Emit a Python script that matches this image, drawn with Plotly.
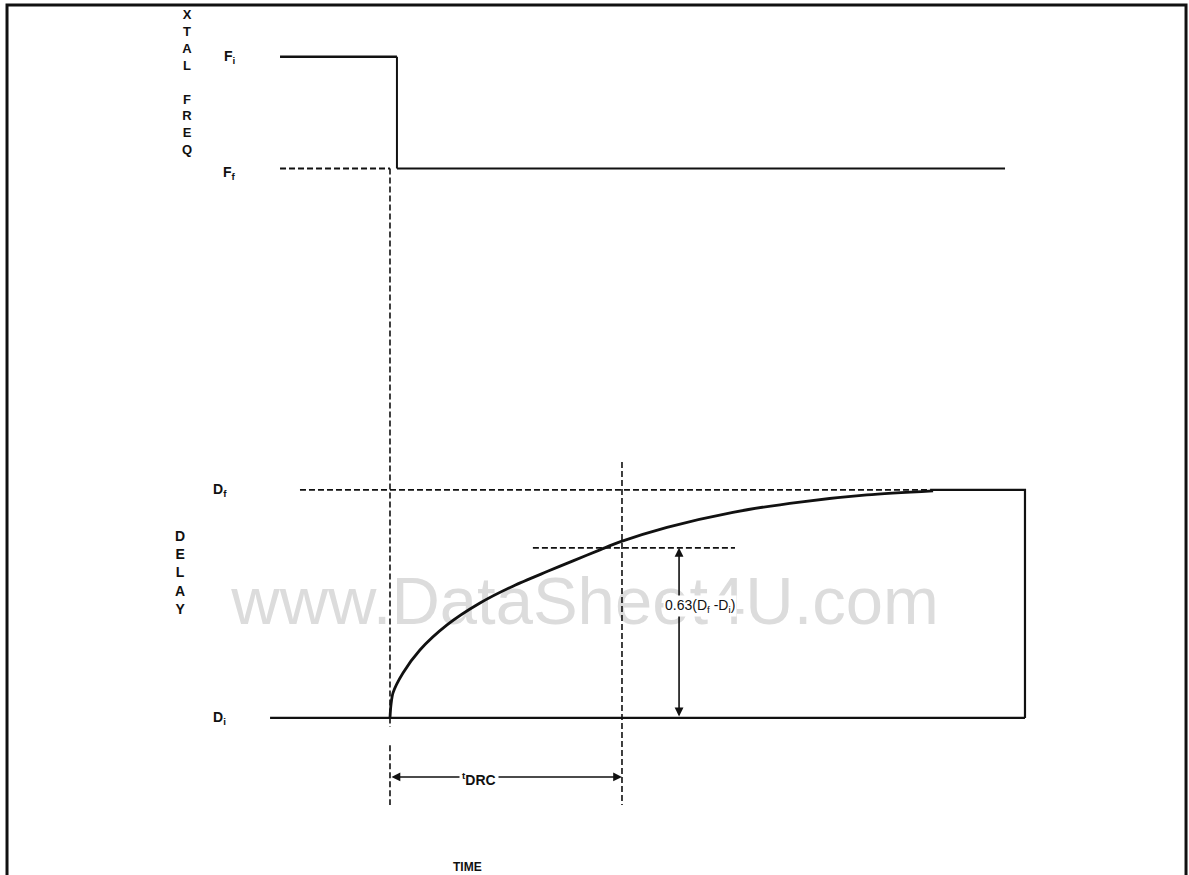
import plotly.graph_objects as go

# ---- data (time in units of t_DRC, level in units of (Df - Di)) ----
T_STEP = 0.0
T_DRC = 1.0
F_I = 2.90          # initial crystal frequency level
F_F = 2.41          # final crystal frequency level
D_F = 1.0           # final delay
D_I = 0.0           # initial delay
LEVEL_63 = 0.746    # drawn level of 0.63(Df - Di)

F_LINE_START = -0.474
F_LINE_END = 2.651
DF_DASH_START = -0.388
DF_DASH_END = 2.328
D_BOX_END = 2.737
DI_START = -0.517
VLINE_BOTTOM = -0.382
VLINE_TOP = 1.123
H63_START = 0.616
H63_END = 1.487
T_ARROW63 = 1.246
V_TDRC = -0.259

curve_t = [0.0, 0.004, 0.013, 0.056, 0.129, 0.246, 0.388, 0.530, 0.677, 0.789,
           0.905, 0.991, 1.194, 1.478, 1.767, 2.056, 2.341]
curve_v = [0.0, 0.055, 0.110, 0.197, 0.298, 0.408, 0.504, 0.578, 0.642, 0.689,
           0.737, 0.772, 0.836, 0.902, 0.947, 0.978, 0.996]

X_RANGE = [-1.681, 3.444]
Y_RANGE = [-0.689, 3.149]

INK = "#111111"
DASH = "6px,3px"
SANS = "Liberation Sans, Arial, sans-serif"

fig = go.Figure()

# watermark (drawn first so the ink sits above it)
fig.add_trace(go.Scatter(
    x=[0.841], y=[0.487], mode="text", text=["www.DataSheet4U.com"],
    textfont=dict(family=SANS, size=67, color="#dcdcdc"),
    hoverinfo="skip"))

def seg(xs, ys, dash="solid", width=2.2):
    fig.add_trace(go.Scatter(x=xs, y=ys, mode="lines",
                             line=dict(color=INK, width=width, dash=dash),
                             hoverinfo="skip"))

# XTAL FREQ step
seg([F_LINE_START, T_STEP + 0.03], [F_I, F_I], width=2.6)
seg([T_STEP + 0.03, T_STEP + 0.03], [F_I, F_F], width=2.0)
seg([F_LINE_START, T_STEP], [F_F, F_F], dash=DASH, width=1.8)
seg([T_STEP + 0.03, F_LINE_END], [F_F, F_F], width=2.2)

# vertical step marker (dashed)
seg([T_STEP, T_STEP], [F_F, D_I - 0.04], dash=DASH, width=1.6)
seg([T_STEP, T_STEP], [D_I - 0.12, VLINE_BOTTOM], dash=DASH, width=1.6)

# delay final level & box
seg([DF_DASH_START, DF_DASH_END], [D_F, D_F], dash=DASH, width=1.8)
seg([DF_DASH_END, D_BOX_END, D_BOX_END], [D_F, D_F, D_I], width=2.2)
seg([DI_START, D_BOX_END], [D_I, D_I], width=2.2)

# delay curve
fig.add_trace(go.Scatter(x=curve_t, y=curve_v, mode="lines",
                         line=dict(color=INK, width=2.8, shape="spline", smoothing=0.8),
                         hoverinfo="skip"))

# t_DRC vertical marker and 63% level
seg([T_DRC, T_DRC], [VLINE_TOP, VLINE_BOTTOM], dash=DASH, width=1.6)
seg([H63_START, H63_END], [LEVEL_63, LEVEL_63], dash=DASH, width=1.8)

font_lbl = dict(family=SANS, size=14, color=INK)

ann = []
# double-headed arrows
ann.append(dict(x=T_ARROW63, y=LEVEL_63, ax=T_ARROW63, ay=D_I, xref="x", yref="y",
                axref="x", ayref="y", showarrow=True, arrowhead=2, startarrowhead=2,
                arrowside="end+start", arrowsize=1.1, arrowwidth=1.6, arrowcolor=INK,
                text=""))
ann.append(dict(x=T_DRC, y=V_TDRC, ax=T_STEP, ay=V_TDRC, xref="x", yref="y",
                axref="x", ayref="y", showarrow=True, arrowhead=2, startarrowhead=2,
                arrowside="end+start", arrowsize=1.1, arrowwidth=1.6, arrowcolor=INK,
                text=""))
# arrow labels (white background breaks the arrow line)
ann.append(dict(x=1.336, y=0.49, xref="x", yref="y", showarrow=False,
                text="0.63(D<sub>f</sub> -D<sub>i</sub>)",
                font=dict(family=SANS, size=14, color=INK),
                bgcolor="white", borderpad=1))
ann.append(dict(x=0.385, y=V_TDRC - 0.01, xref="x", yref="y", showarrow=False,
                text="<b><sup>t</sup>DRC</b>", font=font_lbl, bgcolor="white", borderpad=2))

# level labels
ann.append(dict(x=-0.69, y=F_I + 0.0, xref="x", yref="y", showarrow=False,
                text="<b>F<sub>i</sub></b>", font=font_lbl))
ann.append(dict(x=-0.69, y=F_F - 0.02, xref="x", yref="y", showarrow=False,
                text="<b>F<sub>f</sub></b>", font=font_lbl))
ann.append(dict(x=-0.733, y=D_F + 0.0, xref="x", yref="y", showarrow=False,
                text="<b>D<sub>f</sub></b>", font=font_lbl))
ann.append(dict(x=-0.733, y=D_I + 0.0, xref="x", yref="y", showarrow=False,
                text="<b>D<sub>i</sub></b>", font=font_lbl))

# axis titles (stacked letters)
ann.append(dict(x=-0.875, y=2.788, xref="x", yref="y", showarrow=False,
                text="<b>" + "<br>".join(list("XTAL") + [" "] + list("FREQ")) + "</b>",
                font=dict(family=SANS, size=13, color=INK)))
ann.append(dict(x=-0.905, y=0.636, xref="x", yref="y", showarrow=False,
                text="<b>" + "<br>".join(list("DELAY")) + "</b>",
                font=dict(family=SANS, size=14, color=INK)))
ann.append(dict(x=0.332, y=-0.654, xref="x", yref="y", showarrow=False,
                text="<b>TIME</b>",
                font=dict(family=SANS, size=12, color=INK)))

fig.update_layout(
    width=1189, height=875,
    margin=dict(l=0, r=0, t=0, b=0),
    paper_bgcolor="white", plot_bgcolor="white",
    showlegend=False,
    xaxis=dict(range=X_RANGE, visible=False, fixedrange=True),
    yaxis=dict(range=Y_RANGE, visible=False, fixedrange=True),
    annotations=ann,
    shapes=[dict(type="path", xref="paper", yref="paper",
                 path="M 0.0059,-0.02 L 0.0059,0.9943 L 0.9975,0.9943 L 0.9975,-0.02",
                 line=dict(color=INK, width=3))],
)

fig.write_html("out.html",
               config={"displayModeBar": False},
               post_script="document.body.style.margin='0';"
                           "document.body.style.overflow='hidden';")
